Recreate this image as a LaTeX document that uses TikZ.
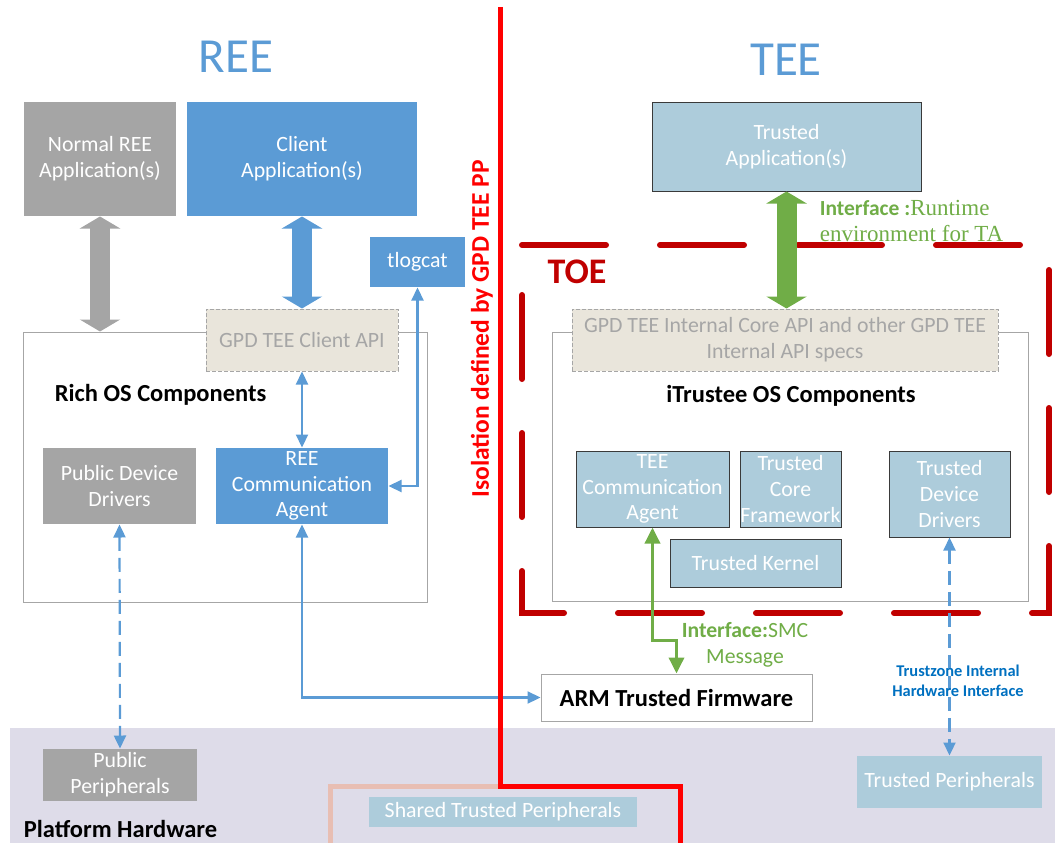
\documentclass[tikz,border=0pt]{standalone}
\usepackage{fontspec}
\setmainfont{Carlito}
\newfontfamily\timesfont{Liberation Serif}
\usepackage{tikz}
\usetikzlibrary{arrows.meta}
\usepackage{xcolor}
\definecolor{appgrey}{HTML}{A5A5A5}
\definecolor{reeblue}{HTML}{5B9BD5}
\definecolor{teefill}{HTML}{ADCCDB}
\definecolor{boxline}{HTML}{3A3A3A}
\definecolor{apifill}{HTML}{E9E5DB}
\definecolor{apiline}{HTML}{A6A6A6}
\definecolor{osline}{HTML}{A6A6A6}
\definecolor{isored}{HTML}{FF0000}
\definecolor{toered}{HTML}{C00000}
\definecolor{ifgreen}{HTML}{70AD47}
\definecolor{hwfill}{HTML}{DEDCE9}
\definecolor{sharepink}{HTML}{E8BEB3}
\definecolor{tzblue}{HTML}{0070C0}

\begin{document}
\begin{tikzpicture}[x=1pt,y=-1pt,line width=1pt,
  box/.style={rectangle,inner sep=0pt,align=center,text=white,font=\fontsize{21.8}{25.8}\selectfont},
  greybox/.style={box,fill=appgrey},
  bluebox/.style={box,fill=reeblue},
  teebox/.style={box,fill=teefill,draw=boxline},
  apibox/.style={box,fill=apifill,draw=apiline,dash pattern=on 4pt off 2pt,text=apiline},
  osbox/.style={rectangle,draw=osline,inner sep=0pt},
  label/.style={font=\bfseries\fontsize{24.5}{28}\selectfont},
  fat/.style={line width=20pt,{Triangle[length=12pt,width=40pt]}-{Triangle[length=12pt,width=40pt]}},
  link/.style={reeblue,line width=2.2pt,{Triangle[length=13pt,width=12pt]}-{Triangle[length=13pt,width=12pt]}},
  dlink/.style={link,dash pattern=on 14pt off 7pt},
  smc/.style={ifgreen,line width=3.5pt,{Triangle[length=16pt,width=15pt]}-{Triangle[length=16pt,width=15pt]}}]

  \useasboundingbox (0,0) rectangle (1055,843);

  \fill[hwfill] (10,728) rectangle (1055,843);

  \node[font=\fontsize{49}{52}\selectfont,text=reeblue]	(REE) at (236,57)	{REE};
  \node[font=\fontsize{49}{52}\selectfont,text=reeblue]	(TEE) at (786,60)	{TEE};

  \node[osbox,minimum width=404pt,minimum height=270pt]	(ROS) at (225,467)	{};
  \node[osbox,minimum width=476pt,minimum height=269pt]	(IOS) at (790,466.5)	{};

  \node[greybox,minimum width=152pt,minimum height=114pt]	(NA) at (100,159)	{Normal REE\\Application(s)};
  \node[bluebox,minimum width=230pt,minimum height=114pt]	(CA) at (302,159)	{Client\\Application(s)};
  \node[bluebox,minimum width=95pt,minimum height=50pt]	(TL) at (417.5,262)	{tlogcat};
  \node[apibox,minimum width=192pt,minimum height=62pt]	(CAPI) at (302,340)	{GPD TEE Client API};
  \node[label,anchor=west]						(RL) at (51,395)	{Rich OS Components};
  \node[greybox,minimum width=153pt,minimum height=76pt]	(PDD) at (119.5,486)	{Public Device\\Drivers};
  \node[bluebox,minimum width=172pt,minimum height=76pt]	(RCA) at (302,486)	{REE\\Communication\\Agent};
  \node[greybox,minimum width=154pt,minimum height=52pt]	(PP) at (120,775)	{Public\\Peripherals};
  \node[label,anchor=west]						(PH) at (20,829)	{Platform Hardware};
  \node[box,fill=teefill,minimum width=268pt,minimum height=30pt]	(STP) at (503,812)	{Shared Trusted Peripherals};
  \node[box,fill=white,draw=osline,text=black,font=\bfseries\fontsize{24.5}{28}\selectfont,minimum width=271pt,minimum height=47pt]	(ARM) at (676.5,697.5)	{ARM Trusted Firmware};

  \node[teebox,minimum width=269pt,minimum height=89pt]	(TA) at (786.5,146.5)	{Trusted\\Application(s)};
  \node[apibox,minimum width=426pt,minimum height=62pt]	(IAPI) at (785,340)	{GPD TEE Internal Core API and other GPD TEE\\Internal API specs};
  \node[label]								(IL) at (791,396)	{iTrustee OS Components};
  \node[teebox,minimum width=153pt,minimum height=76pt]	(TCA) at (652.5,489)	{TEE\\Communication\\Agent};
  \node[teebox,minimum width=101pt,minimum height=76pt]	(TCF) at (790.5,489)	{Trusted\\Core\\Framework};
  \node[teebox,minimum width=121pt,minimum height=86pt]	(TDD) at (949.5,494)	{Trusted\\Device\\Drivers};
  \node[teebox,minimum width=171pt,minimum height=48pt]	(TK) at (755.5,563)	{Trusted Kernel};
  \node[box,fill=teefill,minimum width=185pt,minimum height=52pt]	(TP) at (949.5,782)	{Trusted Peripherals};

  \draw[toered,line width=6pt,line cap=round,dash pattern=on 84pt off 54pt]
	(522,245) -- (1049,245) -- (1049,613) -- (522,613) -- cycle;
  \node[text=toered,font=\bfseries\fontsize{36}{40}\selectfont]	(TOE) at (577,272)	{TOE};

  \draw[fat,appgrey]	(NA.south) -- (NA.south |- ROS.north);
  \draw[fat,reeblue]	(CA.south) -- (CAPI.north);
  \draw[fat,ifgreen]	(TA.south) -- (TA.south |- IAPI.north);

  \draw[link]	(CAPI.south) -- (RCA.north);
  \draw[link]	(RCA.east) -| (TL.south);
  \draw[link]	(RCA.south) |- (ARM.west);
  \draw[dlink]	(PDD.south) -- (PP.north);
  \draw[dlink]	(TDD.south) -- (TP.north);
  \draw[smc]	(TCA.south) -- ++(0,113) -| (ARM.north);

  \node[text=ifgreen,font=\fontsize{21.5}{26}\selectfont,align=left,anchor=west]	(RT) at (816,221)
	{\textbf{Interface :}{\timesfont\fontsize{23}{26}\selectfont Runtime}\\{\timesfont\fontsize{23}{26}\selectfont environment for TA}};
  \node[text=ifgreen,font=\fontsize{21.7}{26}\selectfont,align=center]	(SMC) at (745,645)
	{\textbf{Interface:}SMC\\Message};
  \node[text=tzblue,font=\bfseries\fontsize{16.4}{19.5}\selectfont,align=center]	(TZ) at (958,681)
	{Trustzone Internal\\Hardware Interface};

  \draw[sharepink,line width=5pt]	(330,843) |- (500,786);
  \draw[isored,line width=5pt]	(500,7) |- (680,786) -- (680,843);
  \node[rotate=90,text=isored,font=\bfseries\fontsize{25.5}{28}\selectfont]	(ISO) at (482,329)	{Isolation defined by GPD TEE PP};
\end{tikzpicture}
\end{document}
